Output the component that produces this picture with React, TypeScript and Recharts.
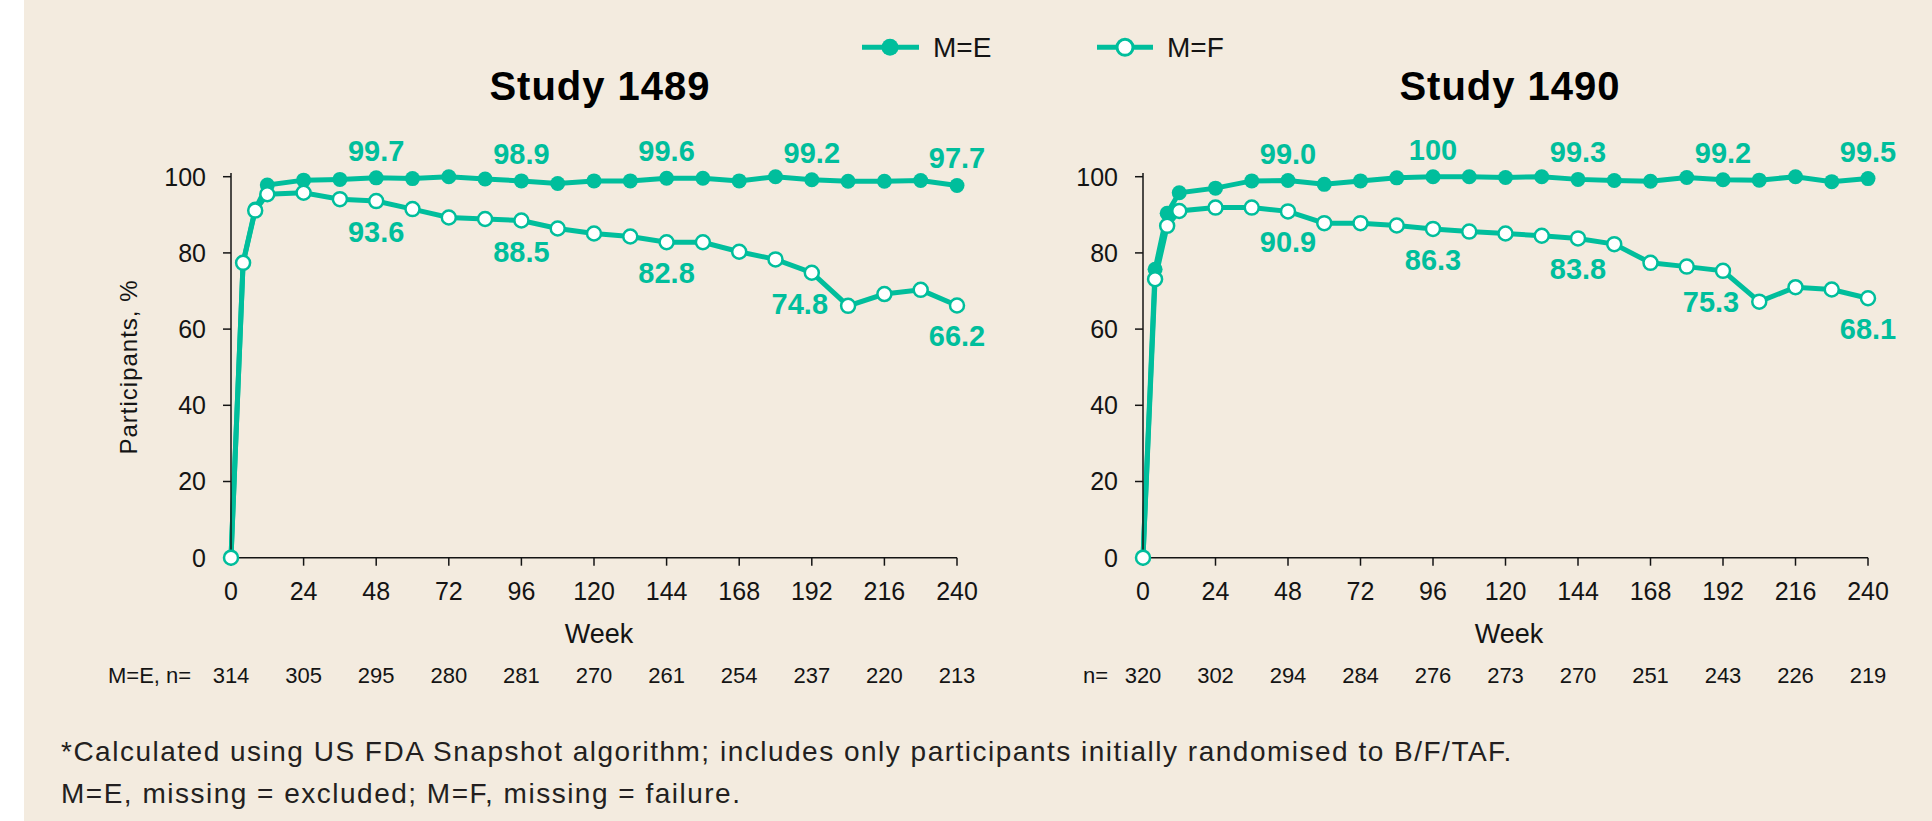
import { LineChart, Line, XAxis, YAxis, LabelList } from 'recharts';

const TEAL = '#00BE9C';
const BG = '#F3EBDF';
const INK = '#141414';
const FONT = '"Liberation Sans", Arial, Helvetica, sans-serif';

// weeks where a point was plotted
const weeks = [0, 4, 8, 12, 24, 36, 48, 60, 72, 84, 96, 108, 120, 132, 144, 156, 168, 180, 192, 204, 216, 228, 240];
const weekTicks = [0, 24, 48, 72, 96, 120, 144, 168, 192, 216, 240];
const yTicks = [0, 20, 40, 60, 80, 100];
const labelledWeeks = [48, 96, 144, 192, 240];

// Study 1489
const me1489 = [0, 77.5, 91.5, 97.8, 99.1, 99.3, 99.7, 99.5, 100, 99.4, 98.9, 98.2, 98.9, 98.9, 99.6, 99.6, 98.9, 100, 99.2, 98.8, 98.8, 99.0, 97.7];
const mf1489 = [0, 77.4, 91.1, 95.4, 95.8, 94.1, 93.6, 91.5, 89.3, 88.9, 88.5, 86.4, 85.1, 84.3, 82.8, 82.8, 80.3, 78.3, 74.8, 66.1, 69.2, 70.3, 66.2];
const n1489 = [314, 305, 295, 280, 281, 270, 261, 254, 237, 220, 213];

// Study 1490
const me1490 = [0, 75.7, 90.4, 95.8, 97.0, 98.9, 99.0, 98.0, 98.9, 99.7, 100, 100, 99.8, 100, 99.3, 99.0, 98.8, 99.8, 99.2, 99.1, 100, 98.7, 99.5];
const mf1490 = [0, 73.1, 87.1, 91.0, 91.9, 91.9, 90.9, 87.8, 87.8, 87.2, 86.3, 85.6, 85.1, 84.5, 83.8, 82.3, 77.4, 76.4, 75.3, 67.2, 71.0, 70.4, 68.1];
const n1490 = [320, 302, 294, 284, 276, 273, 270, 251, 243, 226, 219];

const toRows = (me: number[], mf: number[]) =>
  weeks.map((w, i) => ({ week: w, me: me[i], mf: mf[i] }));

const WeekTick = ({ x, y, payload, counts }: any) => {
  const i = weekTicks.indexOf(payload.value);
  return (
    <g>
      <text x={x} y={y} dy="0.71em" textAnchor="middle" fontSize={25} fill={INK} fontFamily={FONT}>
        {payload.value}
      </text>
      <text x={x} y={y + 100} textAnchor="middle" fontSize={22} fill={INK} fontFamily={FONT}>
        {counts[i]}
      </text>
    </g>
  );
};

const makeLabel = (rows: any[], key: 'me' | 'mf', pos: 'above' | 'below') => (props: any) => {
  const vb = props.viewBox || {};
  const x = vb.x ?? props.x;
  const y = vb.y ?? props.y;
  const row = rows[props.index];
  if (!row || !labelledWeeks.includes(row.week)) return null;
  const v = row[key];
  const txt = v === 100 ? '100' : v.toFixed(1);
  const dx = pos === 'below' && row.week === 192 ? -12 : 0;
  return (
    <text
      x={x + dx}
      y={pos === 'above' ? y - 17 : y + 41}
      textAnchor="middle"
      fontSize={29}
      fontWeight="bold"
      fill={TEAL}
      fontFamily={FONT}
    >
      {txt}
    </text>
  );
};

const Panel = ({ rows, counts, left, width, marginLeft, marginRight }: any) => (
  <div style={{ position: 'absolute', left, top: 0 }}>
    <LineChart
      width={width}
      height={821}
      data={rows}
      margin={{ top: 172.9, right: marginRight, bottom: 233.3, left: marginLeft }}
    >
      <XAxis
        dataKey="week"
        type="number"
        domain={[0, 240]}
        ticks={weekTicks}
        interval={0}
        height={30}
        tickSize={8}
        tickMargin={17}
        stroke={INK}
        strokeWidth={1.5}
        tick={<WeekTick counts={counts} />}
      />
      <YAxis
        type="number"
        domain={[0, 101]}
        ticks={yTicks}
        interval={0}
        width={60}
        tickSize={8}
        tickMargin={17}
        stroke={INK}
        strokeWidth={1.5}
        tick={{ fontSize: 25, fill: INK, fontFamily: FONT }}
      />
      <Line
        dataKey="me"
        type="linear"
        stroke={TEAL}
        strokeWidth={5}
        dot={{ r: 7.5, fill: TEAL, stroke: TEAL, strokeWidth: 0 }}
        activeDot={false}
        isAnimationActive={false}
      >
        <LabelList dataKey="me" content={makeLabel(rows, 'me', 'above')} />
      </Line>
      <Line
        dataKey="mf"
        type="linear"
        stroke={TEAL}
        strokeWidth={5}
        dot={{ r: 7, fill: '#FFFFFF', stroke: TEAL, strokeWidth: 2.5 }}
        activeDot={false}
        isAnimationActive={false}
      >
        <LabelList dataKey="mf" content={makeLabel(rows, 'mf', 'below')} />
      </Line>
    </LineChart>
  </div>
);

export default function App() {
  const rows1489 = toRows(me1489, mf1489);
  const rows1490 = toRows(me1490, mf1490);
  return (
    <div style={{ position: 'absolute', left: 0, top: 0, width: 1932, height: 821, background: '#fff', fontFamily: FONT }}>
      <div style={{ position: 'absolute', left: 24, top: 0, width: 1908, height: 821, background: BG }} />

      <Panel rows={rows1489} counts={n1489} left={0} width={1000} marginLeft={171} marginRight={43} />
      <Panel rows={rows1490} counts={n1490} left={1000} width={932} marginLeft={83} marginRight={64} />

      <svg
        width={1932}
        height={821}
        style={{ position: 'absolute', left: 0, top: 0, pointerEvents: 'none' }}
        fontFamily={FONT}
      >
        {/* legend */}
        <line x1={862} y1={47.3} x2={919} y2={47.3} stroke={TEAL} strokeWidth={5} />
        <circle cx={890} cy={47.3} r={8.5} fill={TEAL} />
        <text x={933} y={57.3} fontSize={28} fill={INK}>M=E</text>
        <line x1={1097} y1={47.3} x2={1153} y2={47.3} stroke={TEAL} strokeWidth={5} />
        <circle cx={1125} cy={47.3} r={8} fill="#FFFFFF" stroke={TEAL} strokeWidth={3} />
        <text x={1167} y={57.3} fontSize={28} fill={INK}>M=F</text>

        {/* titles */}
        <text x={600} y={100} textAnchor="middle" fontSize={40} fontWeight="bold" letterSpacing={1} fill="#000">Study 1489</text>
        <text x={1510} y={100} textAnchor="middle" fontSize={40} fontWeight="bold" letterSpacing={1} fill="#000">Study 1490</text>

        {/* axis titles */}
        <text
          x={137}
          y={367}
          textAnchor="middle"
          fontSize={24}
          letterSpacing={1}
          fill={INK}
          transform="rotate(-90 137 367)"
        >
          Participants, %
        </text>
        <text x={599} y={643} textAnchor="middle" fontSize={27} fill={INK}>Week</text>
        <text x={1509} y={643} textAnchor="middle" fontSize={27} fill={INK}>Week</text>

        {/* n rows */}
        <text x={108} y={682.7} fontSize={22} fill={INK}>M=E, n=</text>
        <text x={1083} y={682.7} fontSize={22} fill={INK}>n=</text>

        {/* footnotes */}
        <text x={61} y={760.7} fontSize={28} letterSpacing={1.5} fill="#231F20">
          *Calculated using US FDA Snapshot algorithm; includes only participants initially randomised to B/F/TAF.
        </text>
        <text x={61} y={803.3} fontSize={28} letterSpacing={1.5} fill="#231F20">
          M=E, missing = excluded; M=F, missing = failure.
        </text>
      </svg>
    </div>
  );
}
